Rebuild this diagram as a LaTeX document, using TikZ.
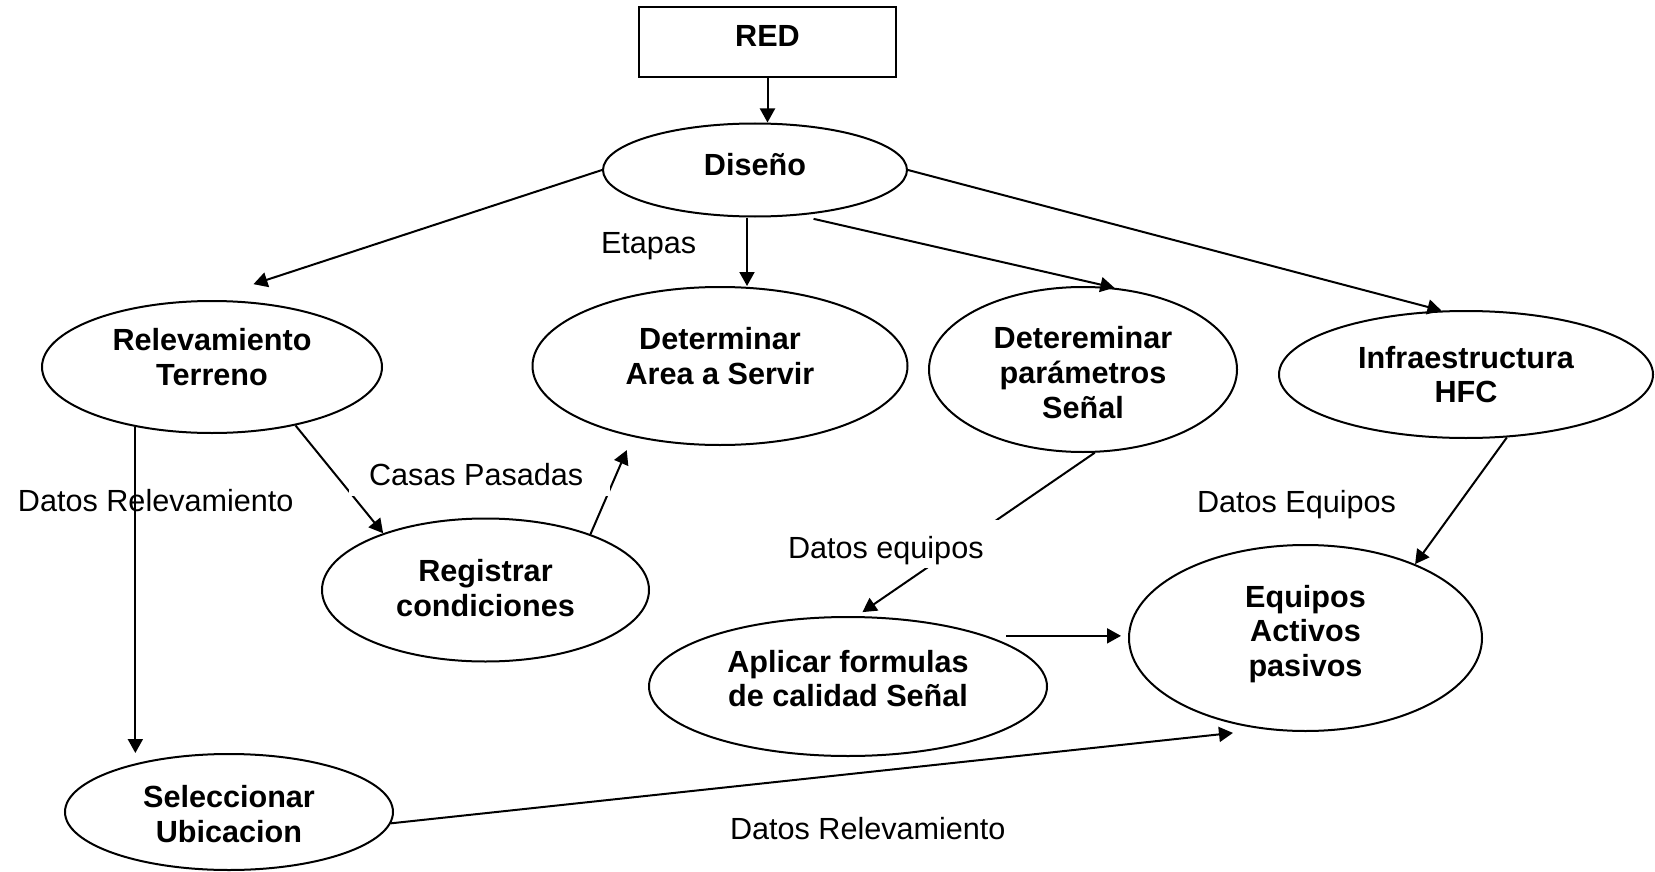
\documentclass[tikz,border=0pt]{standalone}
\usepackage{fontspec}
\setmainfont{Liberation Sans}
\usetikzlibrary{shapes.geometric,arrows.meta}
\begin{document}
\begin{tikzpicture}[x=0.5pt,y=-0.5pt,line width=1pt,
  el/.style={ellipse,draw,inner sep=0pt,line width=1pt},
  bx/.style={rectangle,draw,inner sep=0pt,line width=1pt},
  tx/.style={font=\bfseries\fontsize{15.3}{17.4}\selectfont,align=center,inner sep=0pt},
  arr/.style={-{Triangle[length=7pt,width=7.5pt]}},
  lbl/.style={font=\fontsize{15.3}{17.4}\selectfont,anchor=base west,inner sep=0pt},
  wlbl/.style={lbl,fill=white}
]
\useasboundingbox (0,0) rectangle (1655,872);

% nodes
\node[bx,minimum width=128.5pt,minimum height=35pt,
      label={[tx,yshift=3pt]center:RED}] (red) at (767.5,42) {};
\node[el,minimum width=152pt,minimum height=46.5pt,
      label={[tx,yshift=2.5pt]center:Diseño}] (diseno) at (755,170) {};
\node[el,minimum width=170pt,minimum height=66pt,
      label={[tx,yshift=5pt]center:{Relevamiento\\Terreno}}] (rel) at (212,367) {};
\node[el,minimum width=187.5pt,minimum height=79pt,
      label={[tx,yshift=5pt]center:{Determinar\\Area a Servir}}] (det) at (720,366) {};
\node[el,minimum width=154pt,minimum height=82.5pt,
      label={[tx,yshift=-1.5pt]center:{Detereminar\\parámetros\\Señal}}] (par) at (1083,369.5) {};
\node[el,minimum width=187pt,minimum height=63.5pt,
      label={[tx]center:{Infraestructura\\HFC}}] (infra) at (1466,374.5) {};
\node[el,minimum width=163.5pt,minimum height=71.5pt,
      label={[tx,yshift=1pt]center:{Registrar\\condiciones}}] (reg) at (485.5,590) {};
\node[el,minimum width=199pt,minimum height=69.5pt,
      label={[tx,yshift=4pt]center:{Aplicar formulas\\de calidad Señal}}] (apl) at (848,686.5) {};
\node[el,minimum width=176.5pt,minimum height=93pt,
      label={[tx,yshift=2pt]center:{Equipos\\Activos\\pasivos}}] (equ) at (1305.5,638) {};
\node[el,minimum width=164pt,minimum height=58pt,
      label={[tx,yshift=-1pt]center:{Seleccionar\\Ubicacion}}] (sel) at (229,812) {};

% connectors
\draw[arr] (red.south) -- (red.south |- diseno.north);
\draw[arr,shorten >=25.5pt] (diseno.west) -- (rel.96);
\draw[arr] ([xshift=-4pt]diseno.south) -- ([xshift=-4pt]diseno.south |- det.north);
\draw[arr,shorten <=7.5pt] (diseno.-46) -- (par.69);
\draw[arr] (diseno.east) -- (infra.111);
\draw[arr] (rel.-142) -- (rel.-142 |- sel.north);
\draw[arr] (rel.-35) -- (reg.151);
\draw[arr,shorten >=7.25pt] (reg.28) -- (det.-141);
\draw[arr,shorten >=3.5pt] (par.-82) -- (apl.83);
\draw[arr] (infra.-57) -- (equ.34);
\draw[arr,shorten <=9.5pt,shorten >=3.5pt] (apl.20) -- (apl.20 -| equ.west);
\draw[arr,shorten >=16pt] (sel.-4) -- (equ.-114);

% labels
\node[lbl] (l1) at (600,253) {Etapas};
\node[wlbl,inner xsep=10pt,text height=0pt,text depth=5.5pt] (l2) at (348,485) {Casas Pasadas\hspace*{3.5pt}};
\node[lbl] (l3) at (17,511) {Datos Relevamiento};
\node[wlbl,inner xsep=8pt,text height=19pt,text depth=5pt] (l4) at (771,558) {Datos equipos};
\node[lbl] (l5) at (1196,512) {Datos Equipos};
\node[lbl] (l6) at (729,839) {Datos Relevamiento};
\end{tikzpicture}
\end{document}
